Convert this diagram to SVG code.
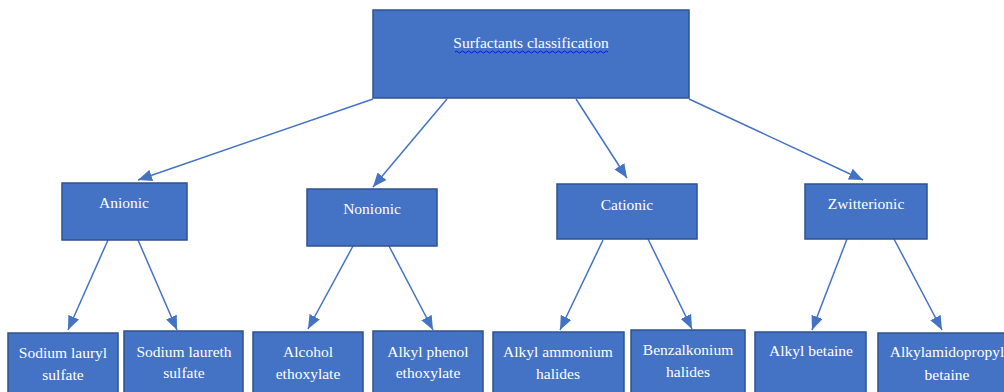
<svg xmlns="http://www.w3.org/2000/svg" width="1004" height="392" viewBox="0 0 1004 392">
<style>
.box{fill:#4472C4;stroke:#2F528F;stroke-width:1.5}
.t{fill:#FFFFFF;font-family:'Liberation Serif','Times New Roman','DejaVu Serif',serif;font-size:15.5px;text-anchor:middle}
.c{stroke:#4472C4;stroke-width:1.5;fill:none;marker-end:url(#ah)}
</style>
<defs>
<marker id="ah" markerUnits="userSpaceOnUse" markerWidth="14" markerHeight="12" refX="12" refY="5" orient="auto" viewBox="0 0 12 10">
<path d="M0,0 L12,5 L0,10 Z" fill="#4472C4"/>
</marker>
</defs>
<rect width="1004" height="392" fill="#FFFFFF"/>
<g id="connectors">
<line class="c" x1="373" y1="99" x2="138" y2="180"/>
<line class="c" x1="447" y1="99" x2="373" y2="187"/>
<line class="c" x1="576" y1="99" x2="627" y2="178"/>
<line class="c" x1="689" y1="99" x2="863" y2="180"/>
<line class="c" x1="108" y1="240" x2="68" y2="330"/>
<line class="c" x1="138" y1="240" x2="177" y2="330"/>
<line class="c" x1="353" y1="246" x2="308" y2="329"/>
<line class="c" x1="389" y1="246" x2="433" y2="330"/>
<line class="c" x1="603" y1="240" x2="560" y2="330"/>
<line class="c" x1="648" y1="239" x2="692" y2="329"/>
<line class="c" x1="847" y1="239" x2="812" y2="330"/>
<line class="c" x1="894" y1="239" x2="942" y2="330"/>
</g>
<g id="root">
<rect class="box" x="373" y="10" width="316" height="88"/>
<text class="t" x="531" y="48" font-family="Liberation Serif, serif">Surfactants  classification</text>
<path d="M455,52 q1.5,-2 3,0 t3,0 t3,0 t3,0 t3,0 t3,0 t3,0 t3,0 t3,0 t3,0 t3,0 t3,0 t3,0 t3,0 t3,0 t3,0 t3,0 t3,0 t3,0 t3,0 t3,0 t3,0 t3,0 t3,0 t3,0 t3,0 t3,0 t3,0 t3,0 t3,0 t3,0 t3,0 t3,0 t3,0 t3,0 t3,0 t3,0 t3,0 t3,0 t3,0 t3,0 t3,0 t3,0 t3,0 t3,0 t3,0 t3,0 t3,0 t3,0 t3,0 t3,0" fill="none" stroke="#1010E0" stroke-width="1"/>
</g>
<g id="anionic">
<rect class="box" x="62" y="183" width="125" height="57"/>
<text class="t" x="124" y="208">Anionic</text>
</g>
<g id="nonionic">
<rect class="box" x="307" y="189" width="130" height="57"/>
<text class="t" x="372" y="214">Nonionic</text>
</g>
<g id="cationic">
<rect class="box" x="557" y="184" width="140" height="55"/>
<text class="t" x="627" y="210">Cationic</text>
</g>
<g id="zwitterionic">
<rect class="box" x="805" y="184" width="122" height="55"/>
<text class="t" x="866" y="209">Zwitterionic</text>
</g>
<g id="sls">
<rect class="box" x="8" y="333" width="110" height="70"/>
<text class="t" x="63" y="358">Sodium lauryl</text>
<text class="t" x="63" y="380">sulfate</text>
</g>
<g id="sles">
<rect class="box" x="124" y="331" width="119" height="70"/>
<text class="t" x="184" y="357">Sodium laureth</text>
<text class="t" x="184" y="378">sulfate</text>
</g>
<g id="alcohol">
<rect class="box" x="253" y="332" width="110" height="70"/>
<text class="t" x="308" y="357">Alcohol</text>
<text class="t" x="308" y="379">ethoxylate</text>
</g>
<g id="alkylphenol">
<rect class="box" x="373" y="331" width="110" height="70"/>
<text class="t" x="428" y="357">Alkyl phenol</text>
<text class="t" x="428" y="378">ethoxylate</text>
</g>
<g id="alkylammonium">
<rect class="box" x="493" y="332" width="131" height="70"/>
<text class="t" x="558" y="357">Alkyl ammonium</text>
<text class="t" x="558" y="379">halides</text>
</g>
<g id="benzalkonium">
<rect class="box" x="631" y="330" width="114" height="70"/>
<text class="t" x="688" y="355">Benzalkonium</text>
<text class="t" x="688" y="377">halides</text>
</g>
<g id="alkylbetaine">
<rect class="box" x="755" y="332" width="111" height="70"/>
<text class="t" x="811" y="356">Alkyl betaine</text>
</g>
<g id="alkylamidopropyl">
<rect class="box" x="878" y="333" width="130" height="70"/>
<text class="t" x="947" y="357">Alkylamidopropyl</text>
<text class="t" x="947" y="380">betaine</text>
</g>
</svg>
